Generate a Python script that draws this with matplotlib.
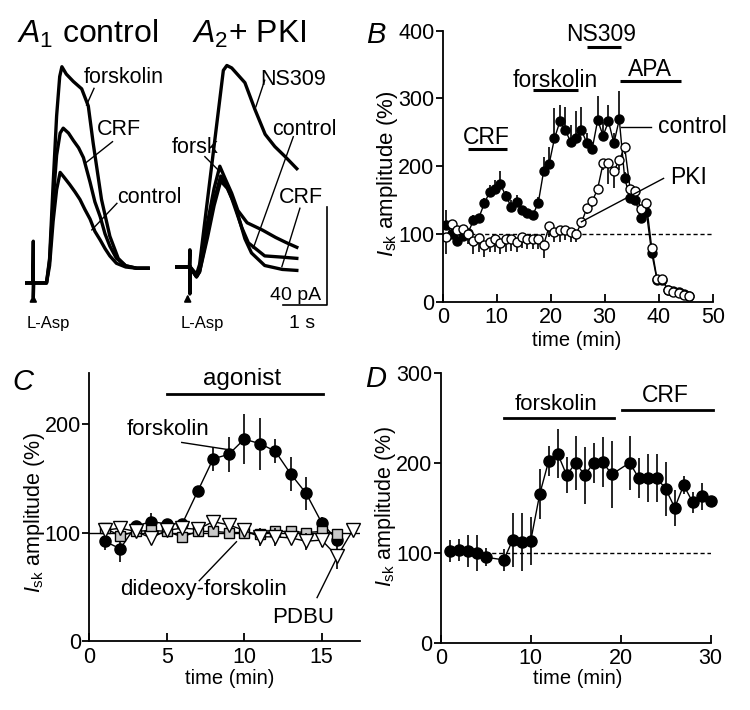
import matplotlib
matplotlib.use('Agg')
import matplotlib.pyplot as plt

plt.rcParams['font.family'] = ['Liberation Sans', 'DejaVu Sans']
plt.rcParams['mathtext.fontset'] = 'custom'
plt.rcParams['mathtext.rm'] = 'Liberation Sans'
plt.rcParams['mathtext.it'] = 'Liberation Sans:italic'
plt.rcParams['mathtext.bf'] = 'Liberation Sans:bold'

# ---------------- Panel A1 traces (time s, current pA) ----------------
a1_forsk_t = [0.0, 0.30, 0.45, 0.52, 0.60, 0.68, 0.75, 0.80, 0.90, 1.06, 1.25, 1.40, 1.51, 1.70, 1.89, 2.08, 2.25, 2.50, 2.76]
a1_forsk_i = [0, 0, 0, 10, 40, 68, 84, 88, 85, 82, 79, 72, 57, 34, 19, 10, 7, 6, 6]
a1_crf_t = [0.0, 0.45, 0.52, 0.60, 0.68, 0.76, 0.83, 0.95, 1.06, 1.18, 1.29, 1.44, 1.55, 1.67, 1.78, 1.89, 2.04, 2.25, 2.50, 2.76]
a1_crf_i = [0, 0, 9, 33, 52, 61, 63, 61, 58, 55, 51, 41, 33, 27, 20, 15, 10, 7, 6, 6]
a1_ctrl_t = [0.0, 0.14, 0.15, 0.15, 0.16, 0.45, 0.52, 0.60, 0.68, 0.76, 0.85, 0.98, 1.10, 1.21, 1.32, 1.44, 1.55, 1.67, 1.78, 1.89, 2.04, 2.25, 2.50, 2.76]
a1_ctrl_i = [0, 0, 17, -6, 0, 0, 7, 25, 38, 45, 43, 40, 37, 34, 30, 26, 21, 17.5, 14, 11, 8, 6.5, 6, 6]

# ---------------- Panel A2 traces ----------------
a2_ns_t = [0.0, 0.29, 0.30, 0.30, 0.31, 0.45, 0.52, 1.06, 1.14, 1.25, 1.40, 1.55, 1.78, 2.01, 2.23, 2.46, 2.73]
a2_ns_i = [0, 0, 7, -11, 0, -3, 1, 80, 82, 81, 78, 75, 64, 54, 49, 45, 40]
a2_forsk_t = [0.0, 0.30, 0.45, 0.52, 0.70, 0.85, 0.98, 1.10, 1.25, 1.39, 1.60, 1.95, 2.25, 2.48, 2.73]
a2_forsk_i = [0, 0, -4, -1, 18, 32, 41, 36, 30, 23, 18, 15, 12, 10, 8]
a2_ctrl_t = [0.0, 0.30, 0.45, 0.52, 0.70, 0.85, 1.00, 1.12, 1.25, 1.48, 1.63, 2.00, 2.40, 2.73]
a2_ctrl_i = [0, 0, -4, -2, 14, 27, 37, 34, 28, 16, 9.8, 4.5, 4, 3.5]
a2_crf_t = [0.0, 0.30, 0.45, 0.52, 0.70, 0.85, 1.00, 1.15, 1.33, 1.55, 1.70, 2.00, 2.40, 2.73]
a2_crf_i = [0, 0, -4, -2, 12, 25, 35, 32, 25, 11.5, 5.7, 0.6, -1, -1.4]

# ---------------- Panel B ----------------
b_time = [0.7, 1.7, 2.7, 3.7, 4.7, 5.7, 6.7, 7.7, 8.7, 9.7, 10.7, 11.7, 12.7, 13.7, 14.7, 15.7,
          16.7, 17.7, 18.7, 19.7, 20.7, 21.7, 22.7, 23.7, 24.7, 25.7, 26.7, 27.7, 28.7, 29.7, 30.7,
          31.7, 32.7, 33.7, 34.7, 35.7, 36.7, 37.7, 38.7, 39.7, 40.7, 41.7, 42.7, 43.7, 44.7, 45.7]
b_control = [113, 100, 90, 97, 102, 120, 124, 145, 162, 167, 173, 156, 140, 147, 135, 131,
             128, 146, 193, 203, 241, 266, 253, 236, 241, 253, 234, 226, 268, 245, 266,
             234, 269, 182, 153, 150, 123, 133, 72, 32, 32, 17, 16, 14, 11, 9]
b_control_err = [22, 10, 12, 6, 6, 8, 6, 8, 10, 12, 20, 8, 10, 10, 6, 5,
                 5, 8, 20, 25, 45, 25, 35, 25, 40, 35, 15, 10, 35, 20, 25,
                 15, 42, 10, 8, 8, 10, 8, 5, 5, 5, 3, 3, 3, 3, 3]
b_pki = [95, 114, 106, 108, 100, 90, 94, 84, 88, 93, 86, 92, 93, 88, 95, 93,
         93, 93, 84, 111, 103, 106, 106, 103, 100, 117, 138, 148, 167, 204, 204,
         193, 209, 228, 167, 163, 137, 146, 80, 33, 33, 17, 15, 13, 10, 8]
b_pki_err = [24, 15, 20, 15, 15, 20, 20, 18, 15, 20, 15, 18, 18, 15, 15, 15,
             15, 15, 20, 15, 15, 18, 15, 15, 12, 8, 8, 8, 8, 10, 30,
             25, 15, 10, 8, 8, 10, 8, 5, 5, 5, 3, 3, 3, 3, 3]

# ---------------- Panel C ----------------
c_time = [1, 2, 3, 4, 5, 6, 7, 8, 9, 10, 11, 12, 13, 14, 15, 16]
c_forsk = [92, 85, 106, 110, 108, 108, 138, 168, 172, 186, 182, 175, 154, 136, 109, 93]
c_forsk_err = [8, 12, 3, 8, 3, 3, 5, 11, 16, 23, 24, 11, 16, 15, 5, 3]
c_dideoxy = [104, 97, 101, 102, 101, 96, 101, 101, 100, 100, 99, 101, 101, 100, 101, 99]
c_dideoxy_err = [3, 3, 3, 3, 3, 3, 3, 3, 3, 3, 3, 3, 3, 3, 3, 3]
c_pdbu_time = [1, 2, 3, 4, 5, 6, 7, 8, 9, 10, 11, 12, 13, 14, 15, 16, 17]
c_pdbu = [102, 104, 101, 95, 102, 104, 103, 110, 107, 102, 96, 96, 95, 92, 93, 78, 102]
c_pdbu_err = [3, 5, 3, 5, 3, 3, 3, 5, 3, 3, 8, 8, 6, 8, 6, 12, 3]

# ---------------- Panel D ----------------
d_time = [1, 2, 3, 4, 5, 7, 8, 9, 10, 11, 12, 13, 14, 15, 16, 17, 18, 19,
          21, 22, 23, 24, 25, 26, 27, 28, 29, 30]
d_vals = [102, 103, 102, 100, 95, 92, 114, 112, 113, 165, 202, 210, 186, 200, 186, 200, 201, 187,
          200, 183, 183, 183, 171, 150, 175, 156, 163, 157]
d_err = [12, 12, 18, 20, 10, 12, 30, 32, 27, 28, 17, 27, 20, 30, 32, 22, 28, 37,
         30, 22, 27, 27, 30, 20, 10, 12, 15, 4]

W, H = 750, 710
fig = plt.figure(figsize=(7.5, 7.1), dpi=100)


def ax_px(x0, y_top, x1, y_bot):
    return fig.add_axes([x0 / W, 1 - y_bot / H, (x1 - x0) / W, (y_bot - y_top) / H])


def style(ax):
    for s in ['top', 'right']:
        ax.spines[s].set_visible(False)
    for s in ['left', 'bottom']:
        ax.spines[s].set_linewidth(1.3)
    ax.tick_params(axis='x', direction='in', length=6, width=1.3, pad=4, labelsize=15.5)
    ax.tick_params(axis='y', direction='out', length=5, width=1.3, pad=1, labelsize=15.5)


def ftext(px, py, s, **kw):
    fig.text(px / W, 1 - py / H, s, **kw)


ylab = r'$I_{\rm sk}$ amplitude (%)'
TRACE_LW = 2.4

# ================= Panel A1 =================
axA1 = ax_px(22.3, 37.25, 158.7, 344.4)
axA1.set_xlim(-0.1, 3.0)
axA1.set_ylim(-25, 100)
axA1.axis('off')
for t, i in [(a1_forsk_t, a1_forsk_i), (a1_crf_t, a1_crf_i), (a1_ctrl_t, a1_ctrl_i)]:
    axA1.plot(t, i, color='black', lw=TRACE_LW, solid_joinstyle='round')
axA1.text(1.29, 81.3, 'forskolin', fontsize=15.5, ha='left', va='baseline')
axA1.plot([1.53, 1.36], [79.2, 72.4], color='black', lw=1)
axA1.text(1.60, 60.2, 'CRF', fontsize=15.5, ha='left', va='baseline')
axA1.plot([1.95, 1.35], [57.5, 49], color='black', lw=1)
axA1.text(2.05, 32.4, 'control', fontsize=15.5, ha='left', va='baseline')
axA1.plot([2.05, 1.48], [32.4, 21.6], color='black', lw=1)
axA1.annotate('', xy=(0.15, -3.5), xytext=(0.15, -8.5),
              arrowprops=dict(arrowstyle='-|>', color='black', lw=1.3, mutation_scale=10),
              annotation_clip=False)
axA1.text(0.50, -18.4, 'L-Asp', fontsize=12, ha='center', va='baseline', clip_on=False)

# ================= Panel A2 =================
axA2 = ax_px(172.3, 21.25, 335.1, 328.4)
axA2.set_xlim(-0.1, 3.6)
axA2.set_ylim(-25, 100)
axA2.axis('off')
for t, i in [(a2_ns_t, a2_ns_i), (a2_forsk_t, a2_forsk_i), (a2_ctrl_t, a2_ctrl_i), (a2_crf_t, a2_crf_i)]:
    axA2.plot(t, i, color='black', lw=TRACE_LW, solid_joinstyle='round')
axA2.text(1.89, 74, 'NS309', fontsize=15.5, ha='left', va='baseline')
axA2.plot([2.0, 1.8], [76, 65.2], color='black', lw=1)
axA2.text(2.16, 53.7, 'control', fontsize=15.5, ha='left', va='baseline')
axA2.plot([2.65, 1.74], [53.0, 7.6], color='black', lw=1)
axA2.text(-0.11, 46.3, 'forsk', fontsize=15.5, ha='left', va='baseline', clip_on=False)
axA2.plot([0.64, 0.98], [44.9, 38.8], color='black', lw=1)
axA2.text(2.33, 25.9, 'CRF', fontsize=15.5, ha='left', va='baseline')
axA2.plot([2.80, 2.39], [23.9, 0.1], color='black', lw=1)
axA2.plot([2.41, 3.41, 3.41], [-15.5, -15.5, 24.5], color='black', lw=1.2, clip_on=False)
axA2.text(3.28, -13.4, '40 pA', fontsize=14, ha='right', va='baseline')
axA2.text(2.84, -24.7, '1 s', fontsize=14, ha='center', va='baseline', clip_on=False)
axA2.annotate('', xy=(0.25, -10.0), xytext=(0.25, -15.0),
              arrowprops=dict(arrowstyle='-|>', color='black', lw=1.3, mutation_scale=10),
              annotation_clip=False)
axA2.text(0.58, -25.0, 'L-Asp', fontsize=12, ha='center', va='baseline', clip_on=False)

ftext(17, 43, r'$\mathit{A}_1$ control', fontsize=23, ha='left', va='baseline')
ftext(192, 43, r'$\mathit{A}_2$+ PKI', fontsize=23, ha='left', va='baseline')

# ================= Panel B =================
axB = ax_px(442.7, 30.7, 712.7, 301.7)
style(axB)
axB.set_xlim(0, 50)
axB.set_ylim(0, 400)
axB.set_xticks([0, 10, 20, 30, 40, 50])
axB.set_yticks([0, 100, 200, 300, 400])
axB.plot([0, 50], [100, 100], color='black', lw=1, ls=(0, (3, 2)))
zeros = [0] * len(b_time)
axB.errorbar(b_time, b_control, yerr=[zeros, b_control_err], fmt='none', ecolor='black', elinewidth=1.2, capsize=0)
axB.errorbar(b_time, b_pki, yerr=[b_pki_err, zeros], fmt='none', ecolor='black', elinewidth=1.2, capsize=0)
axB.plot(b_time, b_control, '-o', color='black', lw=1, ms=6.5, mfc='black', mec='black')
axB.plot(b_time, b_pki, '-o', color='black', lw=1, ms=6.5, mfc='white', mec='black', mew=1)
for (x0, x1, y) in [(4.75, 11.85, 225), (16.8, 25.1, 312.5), (26.8, 33.1, 376), (32.8, 44.1, 325.7)]:
    axB.plot([x0, x1], [y, y], color='black', lw=2.2, clip_on=False, solid_capstyle='butt')
axB.text(8.1, 232.3, 'CRF', fontsize=16.5, ha='center', va='baseline')
axB.text(20.8, 317.3, 'forskolin', fontsize=16.5, ha='center', va='baseline')
axB.text(29.4, 384.5, 'NS309', fontsize=16.5, ha='center', va='baseline', clip_on=False)
axB.text(38.4, 333, 'APA', fontsize=16.5, ha='center', va='baseline')
axB.text(39.9, 248.5, 'control', fontsize=16.5, ha='left', va='baseline')
axB.plot([33.1, 38.5], [258, 258], color='black', lw=1)
axB.text(42.1, 173.3, 'PKI', fontsize=16.5, ha='left', va='baseline')
axB.plot([25.7, 40.9], [118, 182], color='black', lw=1)
ftext(577, 341, 'time (min)', fontsize=14.5, ha='center', va='center')
ftext(387, 174, ylab, fontsize=16, ha='center', va='center', rotation=90)
ftext(366, 43, 'B', fontsize=21, ha='left', va='baseline', style='italic')

# ================= Panel C =================
axC = ax_px(89.2, 372.7, 360, 641)
style(axC)
axC.set_xlim(0, 17.47)
axC.set_ylim(0, 247.3)
axC.set_xticks([0, 5, 10, 15])
axC.set_yticks([0, 100, 200])
axC.plot([0, 17.47], [100, 100], color='black', lw=1)
axC.errorbar(c_time, c_forsk, yerr=c_forsk_err, fmt='none', ecolor='black', elinewidth=1.2, capsize=0)
axC.plot(c_time, c_forsk, '-o', color='black', lw=1, ms=8, mfc='black', mec='black')
axC.errorbar(c_time, c_dideoxy, yerr=c_dideoxy_err, fmt='none', ecolor='black', elinewidth=1.2, capsize=0)
axC.plot(c_time, c_dideoxy, '-s', color='black', lw=1, ms=7.5, mfc='#c8c8c8', mec='black', mew=1)
axC.errorbar(c_pdbu_time, c_pdbu, yerr=c_pdbu_err, fmt='none', ecolor='black', elinewidth=1.2, capsize=0)
axC.plot(c_pdbu_time, c_pdbu, '-v', color='black', lw=1, ms=9.5, mfc='white', mec='black', mew=1, clip_on=False)
axC.plot([5.0, 15.06], [228, 228], color='black', lw=2, clip_on=False)
axC.text(9.85, 236, 'agonist', fontsize=17.5, ha='center', va='baseline', clip_on=False)
axC.text(5.1, 190, 'forskolin', fontsize=16, ha='center', va='baseline')
axC.plot([5.97, 8.88], [183, 176.6], color='black', lw=1)
axC.text(7.37, 42.4, 'dideoxy-forskolin', fontsize=16, ha='center', va='baseline')
axC.plot([7.1, 9.5], [55.6, 91.5], color='black', lw=1)
axC.text(13.8, 16.3, 'PDBU', fontsize=16, ha='center', va='baseline')
axC.plot([14.7, 15.9], [40, 74.6], color='black', lw=1)
ftext(230, 679, 'time (min)', fontsize=14.5, ha='center', va='center')
ftext(35, 513, ylab, fontsize=15.5, ha='center', va='center', rotation=90)
ftext(12, 390, 'C', fontsize=21, ha='left', va='baseline', style='italic')

# ================= Panel D =================
axD = ax_px(440.7, 372.7, 710.7, 642.7)
style(axD)
axD.set_xlim(0, 30)
axD.set_ylim(0, 300)
axD.set_xticks([0, 10, 20, 30])
axD.set_yticks([0, 100, 200, 300])
axD.plot([1, 30], [100, 100], color='black', lw=1, ls=(0, (3, 2)))
axD.errorbar(d_time, d_vals, yerr=d_err, fmt='none', ecolor='black', elinewidth=1.2, capsize=0)
axD.plot(d_time, d_vals, '-o', color='black', lw=1, ms=8, mfc='black', mec='black', clip_on=False)
axD.plot([7.0, 19.2], [250, 250], color='black', lw=2)
axD.plot([20.1, 30.3], [259, 259], color='black', lw=2, clip_on=False)
axD.text(12.8, 258.5, 'forskolin', fontsize=16, ha='center', va='baseline')
axD.text(25.0, 267.8, 'CRF', fontsize=16.5, ha='center', va='baseline')
ftext(578, 679, 'time (min)', fontsize=14.5, ha='center', va='center')
ftext(385, 507, ylab, fontsize=15.5, ha='center', va='center', rotation=90)
ftext(365, 387, 'D', fontsize=21, ha='left', va='baseline', style='italic')

fig.savefig('out.png', dpi=100)
